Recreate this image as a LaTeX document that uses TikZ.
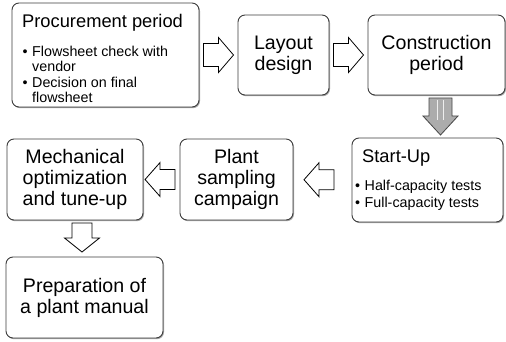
\documentclass[tikz,border=0pt]{standalone}
\usepackage{fontspec}
\setmainfont{Liberation Sans}
\usetikzlibrary{shadows,calc}
\definecolor{edgegray}{HTML}{3C3C3C}
\tikzset{
  box/.style={draw=edgegray, line width=0.9pt, rounded corners=7pt, fill=white,
    drop shadow={shadow xshift=1pt, shadow yshift=-1.2pt, opacity=0.35, fill=black},
    align=center, font=\fontsize{19.6}{21}\selectfont, inner sep=0pt},
  blockarrow/.style={draw=black, line width=0.8pt, fill=white, line join=miter},
  grayarrow/.style={draw=gray!55!black, line width=0.8pt, line join=miter,
    left color=gray!65, middle color=gray!12, right color=gray!65},
  titletext/.style={anchor=base west, font=\fontsize{18.3}{20}\selectfont, inner sep=0pt},
  itemtext/.style={anchor=base west, font=\fontsize{14.3}{16}\selectfont, inner sep=0pt},
  rarrow/.pic={\draw[blockarrow] (-15,-11.5) -- (0,-11.5) -- (0,-17.5) -- (15,0) -- (0,17.5) -- (0,11.5) -- (-15,11.5) -- cycle;},
  larrow/.pic={\draw[blockarrow] (15,-10) -- (0,-10) -- (0,-17) -- (-15,0) -- (0,17) -- (0,10) -- (15,10) -- cycle;},
  darrow/.pic={\draw[blockarrow] (-10,-14.5) -- (-10,0.5) -- (-17.5,0.5) -- (0,14.5) -- (17.5,0.5) -- (10,0.5) -- (10,-14.5) -- cycle;},
  gdarrow/.pic={\draw[grayarrow] (-11.5,-18.5) -- (-11.5,-0.5) -- (-17.5,-0.5) -- (0,18.5) -- (17.5,-0.5) -- (11.5,-0.5) -- (11.5,-18.5) -- cycle;
     \draw[white, line width=1pt, opacity=0.8] (-3,-16) -- (-3,4) (3,-16) -- (3,4);},
}
\begin{document}
\begin{tikzpicture}[x=1pt, y=-1pt]
\useasboundingbox (0,0) rectangle (506,342);

% boxes
\node[box, minimum width=187pt, minimum height=104pt] (proc) at (105.5,55) {};
\node[box, minimum width=91pt, minimum height=80pt] (layout) at (283.5,55) {Layout\\design};
\node[box, minimum width=137pt, minimum height=80pt] (constr) at (436.5,55) {Construction\\period};
\node[box, minimum width=151pt, minimum height=84pt] (start) at (427.5,180) {};
\node[box, minimum width=113pt, minimum height=81pt] (plant) at (236.5,179.5) {Plant\\sampling\\campaign};
\node[box, minimum width=136pt, minimum height=81pt] (mech) at (75,179.5) {Mechanical\\optimization\\and tune-up};
\node[box, minimum width=157pt, minimum height=81pt] (prep) at (84.5,297.5) {Preparation of\\a plant manual};

% texts of procurement box
\node[titletext] (proctitle) at (22,27.5) {Procurement period};
\node[itemtext] (pb1) at (22.5,57) {•};
\node[itemtext] (pl1) at (32,57) {Flowsheet check with};
\node[itemtext] (pl2) at (32,72) {vendor};
\node[itemtext] (pb2) at (22.5,87.5) {•};
\node[itemtext] (pl3) at (32,87.5) {Decision on final};
\node[itemtext] (pl4) at (32,102.5) {flowsheet};

% texts of start-up box
\node[titletext] (starttitle) at (362,163) {Start-Up};
\node[itemtext] (sb1) at (355,190) {•};
\node[itemtext] (sl1) at (364.5,190) {Half-capacity tests};
\node[itemtext] (sb2) at (355,207.5) {•};
\node[itemtext] (sl2) at (364.5,207.5) {Full-capacity tests};

% block arrows
\coordinate (a1) at ($(proc.east)!0.5!(layout.west)$);
\coordinate (a2) at ($(layout.east)!0.5!(constr.west)$);
\coordinate (a3) at (440.5,116.5);
\coordinate (a4) at ($(plant.east)!0.44!(start.west)$);
\coordinate (a5) at ($(mech.east)!0.46!(plant.west)$);
\coordinate (a6) at (82,237.5);
\pic at (a1) {rarrow};
\pic at (a2) {rarrow};
\pic at (a3) {gdarrow};
\pic at (a4) {larrow};
\pic at (a5) {larrow};
\pic at (a6) {darrow};
\end{tikzpicture}
\end{document}
